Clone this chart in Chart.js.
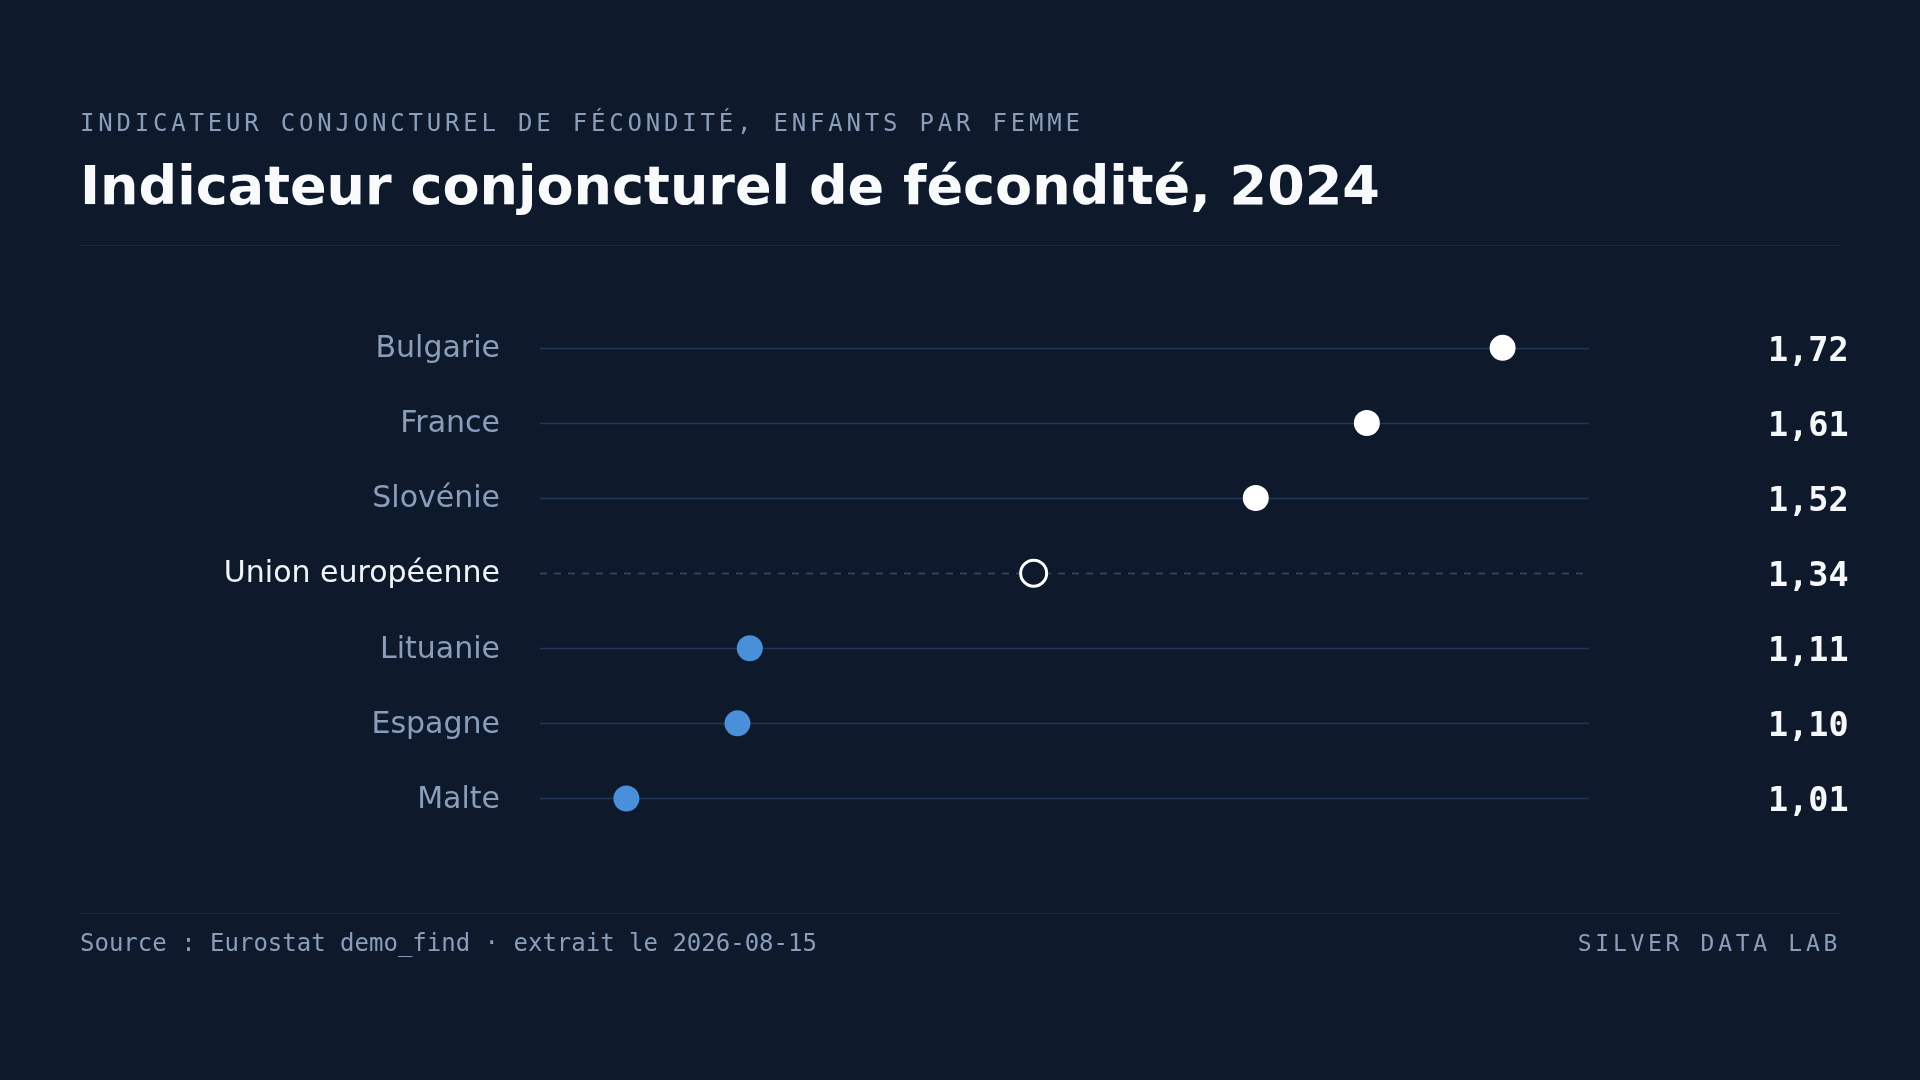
<!DOCTYPE html>
<html>
<head>
<meta charset="utf-8">
<script src="https://cdn.jsdelivr.net/npm/chart.js@4.4.1/dist/chart.umd.min.js"></script>
<style>
  html, body { margin: 0; padding: 0; background: #0e1a2b; width: 1920px; height: 1080px; overflow: hidden; }
  #wrap { position: relative; width: 1920px; height: 1080px; }
  #chart { position: absolute; left: 0; top: 0; }
  .t { position: absolute; white-space: nowrap; line-height: 1; }
  #sub { left: 80px; top: 109px; font: 24px "DejaVu Sans Mono", monospace; letter-spacing: 3.8px; color: #8a9ebb; }
  #title { left: 80px; top: 154px; font: bold 54px "DejaVu Sans", sans-serif; color: #f8fafc; }
  .rule { position: absolute; left: 80px; width: 1760px; height: 1px; background: #1b2a3e; }
  #src { left: 80px; top: 929px; font: 24px "DejaVu Sans Mono", monospace; color: #8a9ebb; }
  #brand { right: 79px; top: 929.5px; font: 23px "DejaVu Sans Mono", monospace; letter-spacing: 3.7px; color: #8a9ebb; }
</style>
</head>
<body>
<div id="wrap">
  <canvas id="chart" width="1920" height="1080"></canvas>
  <div class="t" id="sub">INDICATEUR CONJONCTUREL DE FÉCONDITÉ, ENFANTS PAR FEMME</div>
  <div class="t" id="title">Indicateur conjoncturel de fécondité, 2024</div>
  <div class="rule" style="top:245px"></div>
  <div class="rule" style="top:913px"></div>
  <div class="t" id="src">Source : Eurostat demo_find · extrait le 2026-08-15</div>
  <div class="t" id="brand">SILVER DATA LAB</div>
</div>
<script>
const categories = ["Bulgarie", "France", "Slovénie", "Union européenne", "Lituanie", "Espagne", "Malte"];
const values = [1.72, 1.61, 1.52, 1.34, 1.11, 1.10, 1.01];
const valueLabels = ["1,72", "1,61", "1,52", "1,34", "1,11", "1,10", "1,01"];
const referenceCategory = "Union européenne";
const axisMin = 0.94;
const axisMax = 1.79;

const BG = "#0e1a2b";
const WHITE = "#ffffff";
const BLUE = "#4a8fd9";
const refIdx = categories.indexOf(referenceCategory);
const refVal = values[refIdx];

const tracks = {
  id: "tracks",
  beforeDatasetsDraw(chart) {
    const { ctx, chartArea } = chart;
    const y = chart.scales.y;
    ctx.save();
    categories.forEach((c, i) => {
      const py = Math.round(y.getPixelForValue(i)) + 0.5;
      ctx.beginPath();
      ctx.lineWidth = 1.6;
      if (i === refIdx) {
        ctx.setLineDash([7, 7]);
        ctx.strokeStyle = "#2e4a6d";
      } else {
        ctx.setLineDash([]);
        ctx.strokeStyle = "#233856";
      }
      ctx.moveTo(chartArea.left, py);
      ctx.lineTo(chartArea.right, py);
      ctx.stroke();
    });
    ctx.restore();
  },
  afterDatasetsDraw(chart) {
    const { ctx } = chart;
    const y = chart.scales.y;
    ctx.save();
    ctx.font = "bold 33.5px 'DejaVu Sans Mono', monospace";
    ctx.fillStyle = "#f5f7fa";
    ctx.textAlign = "left";
    ctx.textBaseline = "middle";
    valueLabels.forEach((t, i) => {
      ctx.fillText(t, 1768, y.getPixelForValue(i) + 4);
    });
    ctx.restore();
  }
};

new Chart(document.getElementById("chart"), {
  type: "line",
  data: {
    labels: categories,
    datasets: [{
      data: values,
      showLine: false,
      pointRadius: 13,
      pointBorderWidth: (c) => c.dataIndex === refIdx ? 3 : 0,
      pointBackgroundColor: (c) => c.dataIndex === refIdx ? BG : (values[c.dataIndex] > refVal ? WHITE : BLUE),
      pointBorderColor: (c) => c.dataIndex === refIdx ? WHITE : (values[c.dataIndex] > refVal ? WHITE : BLUE),
    }]
  },
  options: {
    indexAxis: "y",
    responsive: false,
    animation: false,
    events: [],
    layout: { padding: { left: 0, right: 331, top: 310.3, bottom: 244 } },
    plugins: { legend: { display: false }, tooltip: { enabled: false } },
    scales: {
      x: { type: "linear", min: axisMin, max: axisMax, display: false },
      y: {
        type: "category",
        offset: true,
        grid: { display: false, drawTicks: false },
        border: { display: false },
        afterFit: (s) => { s.width = 540; },
        ticks: {
          padding: 40,
          labelOffset: 1.5,
          font: { family: "'DejaVu Sans', sans-serif", size: 30 },
          color: (c) => c.index === refIdx ? "#f1f5f9" : "#8a9ebb",
        }
      }
    }
  },
  plugins: [tracks]
});
</script>
</body>
</html>
